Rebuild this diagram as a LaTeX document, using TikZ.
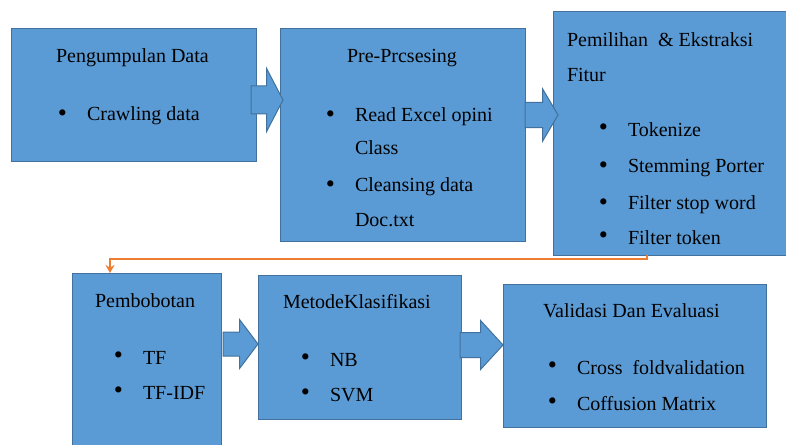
\documentclass[tikz,border=0pt]{standalone}
\usepackage{fontspec}
\setmainfont{Liberation Serif}
\newfontfamily\boxface{Liberation Serif}
\usetikzlibrary{shapes.arrows,arrows.meta}

\definecolor{boxblue}{HTML}{5B9BD5}
\definecolor{boxedge}{HTML}{41719C}
\definecolor{linkorange}{HTML}{ED7D31}

\tikzset{every node/.style={inner sep=0pt,outer sep=0pt}}
\tikzstyle{box}=[draw=boxedge,fill=boxblue,line width=0.5pt,anchor=north west]
\tikzstyle{txt}=[anchor=mid west,font=\boxface\fontsize{10}{12}\selectfont]
\tikzstyle{item}=[txt,label={[font=\boxface\fontsize{13}{14}\selectfont,label distance=10pt]left:\textbullet}]
\tikzstyle{link}=[draw=linkorange,line width=1pt,-{Stealth[length=4pt,width=4.5pt]}]
\tikzset{blockarrow/.style n args={4}{single arrow,draw=boxedge,fill=boxblue,line width=0.5pt,
    anchor=tail,inner xsep=0pt,minimum width=0pt,minimum height=#1,inner ysep=#2,
    single arrow head extend=#3,single arrow tip angle=#4}}

\begin{document}
\begin{tikzpicture}[x=0.5pt,y=-0.5pt]
    \useasboundingbox (0,0) rectangle (786,444);

    % boxes
    \node [box,minimum width=122.5pt,minimum height=66pt] (b1) at (11,29) {};
    \node [box,minimum width=122.5pt,minimum height=106pt] (b2) at (280,29) {};
    \node [box,minimum width=118.5pt,minimum height=121.5pt] (b3) at (553,12) {};
    \node [box,minimum width=74.5pt,minimum height=88.5pt] (b4) at (72,273) {};
    \node [box,minimum width=101.5pt,minimum height=72pt] (b5) at (258,275) {};
    \node [box,minimum width=131.5pt,minimum height=71.5pt] (b6) at (503,284) {};

    % block arrows
    \node [blockarrow={16pt}{6.75pt}{8.75pt}{125}] (a1) at (251,100) {};
    \node [blockarrow={16.5pt}{6pt}{6.75pt}{119}] (a2) at (525,115) {};
    \node [blockarrow={17.5pt}{5.75pt}{6.25pt}{106}] (a3) at (223,344) {};
    \node [blockarrow={21.5pt}{6pt}{6pt}{95}] (a4) at (460,345) {};

    % texts
    \node [txt] (t1) at (56,58) {Pengumpulan Data};
    \node [item] (t1a) at (87,116) {Crawling data};

    \node [txt] (t2) at (347,58) {Pre-Prcsesing};
    \node [item] (t2a) at (355,117) {Read Excel opini};
    \node [txt] (t2b) at (355,150) {Class};
    \node [item] (t2c) at (355,187) {Cleansing data};
    \node [txt] (t2d) at (355,222) {Doc.txt};

    \node [txt] (t3) at (567,42) {Pemilihan \ \& Ekstraksi};
    \node [txt] (t3b) at (567,77) {Fitur};
    \node [item] (t3c) at (628,132) {Tokenize};
    \node [item] (t3d) at (628,168) {Stemming Porter};
    \node [item] (t3e) at (628,205) {Filter stop word};
    \node [item] (t3f) at (628,240) {Filter token};

    \node [txt] (t4) at (95,303) {Pembobotan};
    \node [item] (t4a) at (143,360) {TF};
    \node [item] (t4b) at (143,395) {TF-IDF};

    \node [txt] (t5) at (283,304) {MetodeKlasifikasi};
    \node [item] (t5a) at (330,362) {NB};
    \node [item] (t5b) at (330,397) {SVM};

    \node [txt] (t6) at (543,313) {Validasi Dan Evaluasi};
    \node [item] (t6a) at (577,370) {Cross \ foldvalidation};
    \node [item] (t6b) at (577,406) {Coffusion Matrix};

    % link to second row
    \draw [link] ([xshift=-12.25pt]b3.south) -- ++(0,4) -| ([xshift=-18.25pt]b4.north);
\end{tikzpicture}
\end{document}
